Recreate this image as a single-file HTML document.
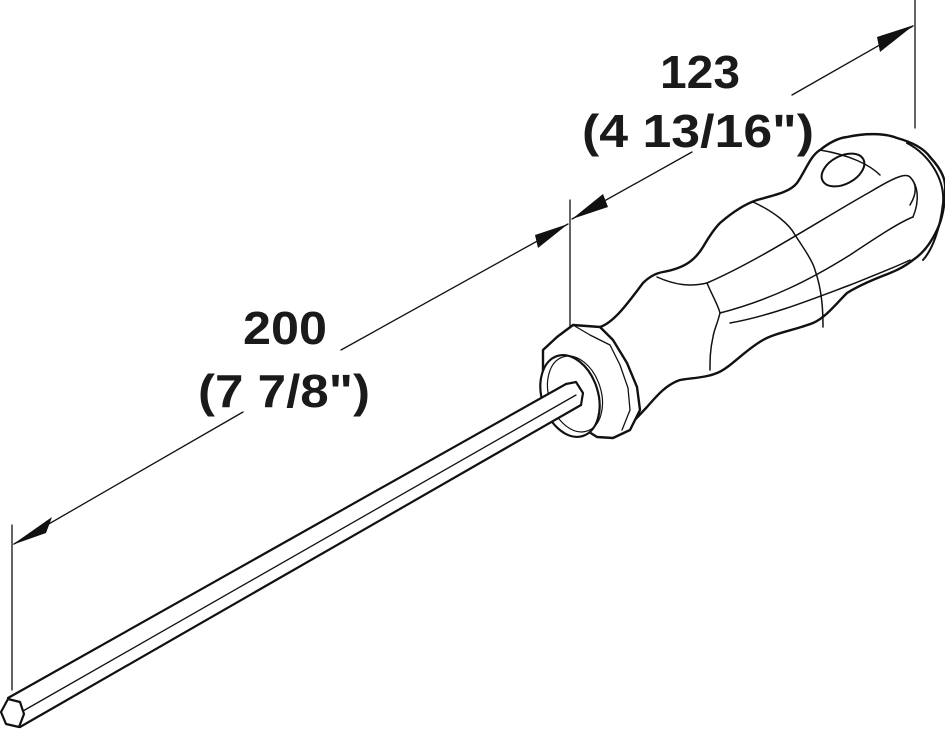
<!DOCTYPE html>
<html><head><meta charset="utf-8"><style>
html,body{margin:0;padding:0;background:#fff;}
svg{display:block;}
text{font-family:"Liberation Sans",Arial,sans-serif;font-weight:bold;fill:#1a1a1a;}
</style></head><body>
<svg width="945" height="730" viewBox="0 0 945 730" xmlns="http://www.w3.org/2000/svg">
<g fill="none" stroke="#111" stroke-linecap="round" stroke-linejoin="round">
<!-- dimension lines -->
<g stroke-width="1.3">
<line x1="12" y1="525" x2="12" y2="690"/>
<line x1="570" y1="200" x2="570" y2="367"/>
<line x1="915" y1="0" x2="915" y2="128"/>
<line x1="14" y1="544" x2="243" y2="412"/>
<line x1="341" y1="350" x2="568" y2="224"/>
<line x1="572" y1="219" x2="692" y2="152"/>
<line x1="792" y1="95" x2="913" y2="26"/>
</g>
<!-- handle outline -->
<path stroke-width="2.4" fill="#fff" d="M600,327 C615,322 630,300 643,283 C650,276 657,273 663,272 C685,268 695,260 703,247 C710,235 715,228 720,223 C735,210 748,203 757,200 C775,195 790,192 797,183 C805,172 810,156 820,150 C830,142 838,138 847,137 C865,133 885,133 897,138 C915,143 925,150 930,157 C942,170 946,180 945,190 C945,205 942,220 937,230 C930,245 922,254 913,260 C900,270 890,273 880,277 C865,283 855,288 847,293 C835,305 825,318 813,323 C795,330 775,333 763,340 C745,350 730,368 717,373 C705,378 690,378 680,380 C665,385 655,398 647,407 L630,425"/>
<!-- ferrule -->
<path stroke-width="2.4" fill="#fff" d="M543,350 L557,337 L573,325 L600,327 L613,340 L627,363 L637,387 L640,410 L630,430 L613,438 L597,437 L570,420 L550,407 L543,387 Z"/>
<path stroke-width="1.3" d="M573,325 L590,335 L610,345 L620,365 L628,388 L630,410 L622,430"/>
<ellipse cx="570" cy="396" rx="28" ry="42" transform="rotate(-18 570 396)" stroke-width="2.2" fill="#fff"/>
<ellipse cx="575" cy="394" rx="26" ry="39" transform="rotate(-18 575 394)" stroke-width="1.2"/>
<!-- shaft -->
<g stroke-width="2.2">
<path fill="#fff" stroke="none" d="M8,698 L566,384 L582,396 L581,405 L20,727 Z"/>
<line x1="8" y1="698" x2="566" y2="384"/>
<line x1="20" y1="727" x2="581" y2="405"/>
<path d="M566,384 L576,382 L583,393 L581,405"/>
<polygon points="1,712 8,699 20,702 24,714 19,727 6,724" fill="#fff"/>
</g>
<line x1="23" y1="711" x2="576" y2="395" stroke-width="1.3"/>
<!-- butt -->
<path stroke-width="2" d="M907,143 C930,155 945,180 943,203 C940,230 932,250 923,260"/>
<ellipse cx="843" cy="170" rx="23" ry="14" transform="rotate(-28 843 170)" stroke-width="2"/>
<!-- facets -->
<g stroke-width="1.5">
<path d="M753,202 C775,212 790,225 795,235 C805,250 813,262 815,270 C822,290 823,310 823,327"/>
<path d="M657,277 C675,285 690,287 707,283 C712,295 718,305 720,313 C717,325 714,330 713,337 C710,350 710,360 710,370"/>
<path d="M707,283 C760,260 820,220 870,192 C890,180 905,172 910,177 C918,185 916,195 910,205"/>
<path d="M720,313 C770,300 810,280 850,255 C880,235 900,222 913,217"/>
<path d="M730,323 C770,316 810,300 850,285 C880,273 898,266 910,260"/>
<path d="M820,150 C850,155 870,165 880,175"/>
<path d="M913,217 C920,200 918,185 910,177"/>
</g>
</g>
<!-- arrowheads -->
<g fill="#111" stroke="none">
<polygon points="12,545 52,517 46,533"/>
<polygon points="568,224 535,235 538,248"/>
<polygon points="572,219 608,207 603,194"/>
<polygon points="914,25 877,37 880,52"/>
</g>
<!-- labels -->
<text x="243" y="344" font-size="46" textLength="84" lengthAdjust="spacingAndGlyphs">200</text>
<text x="198" y="407" font-size="46" textLength="172" lengthAdjust="spacingAndGlyphs">(7 7/8")</text>
<text x="660" y="88" font-size="46" textLength="80" lengthAdjust="spacingAndGlyphs">123</text>
<text x="582" y="147" font-size="46" textLength="232" lengthAdjust="spacingAndGlyphs">(4 13/16")</text>
</svg>
</body></html>
